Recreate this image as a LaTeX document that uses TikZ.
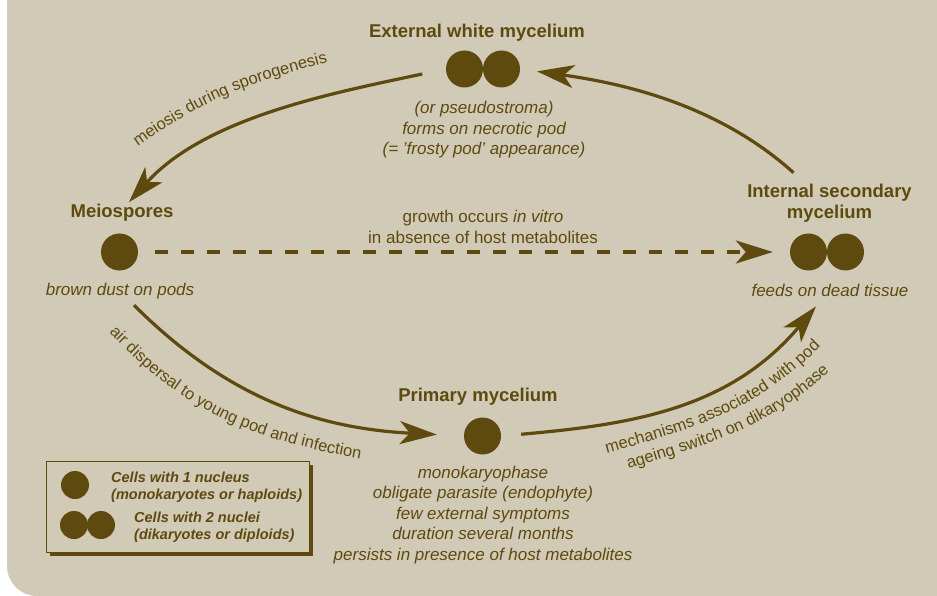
\documentclass[tikz,border=0pt]{standalone}
\usepackage{fontspec}
\setmainfont{Liberation Sans}
\usetikzlibrary{arrows.meta,decorations.text,shadows}
\definecolor{bgtan}{RGB}{209,202,183}
\definecolor{brn}{RGB}{94,74,14}

\begin{document}
\begin{tikzpicture}[x=1pt,y=-1pt,
    cell/.style={circle, fill=brn, minimum size=37pt, inner sep=0pt},
    keycell/.style={circle, fill=brn, minimum size=28pt, inner sep=0pt},
    stagename/.style={text=brn, font=\fontsize{18.5}{21}\selectfont\bfseries, align=center, inner sep=2pt},
    stagenote/.style={text=brn, font=\fontsize{17}{20.5}\selectfont\itshape, align=center, inner sep=2pt},
    growthnote/.style={text=brn, font=\fontsize{17}{21}\selectfont, align=center, inner sep=2pt},
    keytext/.style={text=brn, font=\fontsize{14.5}{17}\selectfont\bfseries\itshape, align=left, anchor=west, inner sep=0pt},
    flow/.style={draw=brn, line width=3.2pt, -{Stealth[length=37pt, width=23pt, inset=10pt]}},
    pathlabel/.style={decorate, decoration={text along path, text align=center,
        text={|\fontsize{16.5}{18}\selectfont\color{brn}|#1}}}
]
    \useasboundingbox (0,0) rectangle (937,596);
    % background panel
    \fill[bgtan, rounded corners=30pt] (7,0) rectangle (937,596);
    \fill[bgtan] (7,0) rectangle (100,100) (837,0) rectangle (937,596);

    % External white mycelium
    \node[stagename] (extT) at (477,33) {External white mycelium};
    \node[cell] (extL) at (464.5,69) {};
    \node[cell] (extR) at (501.5,69) {};
    \node[stagenote] (extD) at (484,130) {(or pseudostroma)\\forms on necrotic pod\\(= 'frosty pod' appearance)};

    % Meiospores
    \node[stagename] (meioT) at (122,213) {Meiospores};
    \node[cell] (meio) at (119.5,252) {};
    \node[stagenote] (meioD) at (120,291) {brown dust on pods};

    % Internal secondary mycelium
    \node[stagename] (intT) at (829.5,203) {Internal secondary\\mycelium};
    \node[cell] (intL) at (808.5,252) {};
    \node[cell] (intR) at (845.5,252) {};
    \node[stagenote] (intD) at (830,290) {feeds on dead tissue};

    % Primary mycelium
    \node[stagename] (primT) at (478,397) {Primary mycelium};
    \node[cell] (prim) at (482.5,436) {};
    \node[stagenote] (primD) at (483,515) {monokaryophase\\obligate parasite (endophyte)\\few external symptoms\\duration several months\\persists in presence of host metabolites};

    % in vitro growth
    \node[growthnote] (growth) at (483,227) {growth occurs \textit{in vitro}\\in absence of host metabolites};

    % cycle arrows
    \draw[flow, shorten <=24pt] (extL.west) to[out=192, in=48, looseness=0.85] ([xshift=7pt]meioT.north);
    \draw[flow, shorten >=17pt] ([shift={(-36,-9)}]intT.north) to[out=138, in=-8, looseness=0.9] (extR.east);
    \draw[flow, shorten >=27pt] ([shift={(14,4)}]meioD.south) to[out=-45, in=177] (prim.west);
    \draw[flow, shorten <=20pt] (prim.east) to[out=5, in=230] ([shift={(-14,8)}]intD.south);
    \draw[flow, line width=3.5pt, dash pattern=on 13pt off 13pt, shorten <=17pt, shorten >=17pt] (meio) -- (intL);

    % arrow labels
    \path[pathlabel=meiosis during sporogenesis] (136,148) to[out=36, in=194] (330,62);
    \path[pathlabel=air dispersal to young pod and infection] (108,331) to[out=-47, in=170] (362,459);
    \path[pathlabel=mechanisms associated with pod] (605,454) to[out=16, in=225] (822,345);
    \path[pathlabel=ageing switch on dikaryophase] (628,469) to[out=17, in=222] (830,371);

    % legend
    \node[draw=brn, fill=bgtan, line width=1pt, minimum width=263pt, minimum height=91pt,
        drop shadow={shadow xshift=3.5pt, shadow yshift=-3.5pt, fill=brn, opacity=1}] (legend) at (177.5,506.5) {};
    \node[keycell] (key1) at (75,485) {};
    \node[keytext] (keytxt1) at (111,487) {Cells with 1 nucleus\\(monokaryotes or haploids)};
    \node[keycell] (key2a) at (74,525) {};
    \node[keycell] (key2b) at (101,525) {};
    \node[keytext] (keytxt2) at (134,527) {Cells with 2 nuclei\\(dikaryotes or diploids)};
\end{tikzpicture}
\end{document}
